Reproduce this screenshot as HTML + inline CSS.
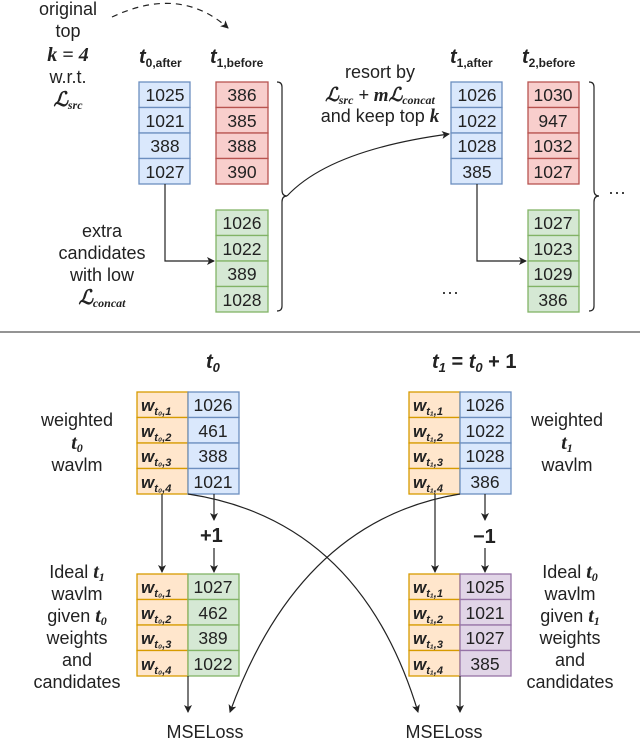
<!DOCTYPE html>
<html><head><meta charset="utf-8"><style>
body{margin:0;background:#fff}
svg text{font-family:"Liberation Sans",sans-serif;fill:#222}
.m{font-family:"Liberation Serif",serif;font-style:italic;font-weight:bold}
.n{font-size:17.5px;text-anchor:middle}
.l{font-size:18px;text-anchor:middle}
</style></head><body>
<svg width="640" height="742" viewBox="0 0 640 742" xmlns="http://www.w3.org/2000/svg">
<defs><marker id="a" markerWidth="8" markerHeight="8" refX="7" refY="4" orient="auto" markerUnits="userSpaceOnUse"><path d="M0,0 L8,4 L0,8 L2,4z" fill="#222"/></marker></defs>
<g stroke-width="1.3">
<g fill="#dae8fc" stroke="#6c8ebf"><rect x="139" y="82" width="51" height="25.5"/><rect x="139" y="107.5" width="51" height="25.5"/><rect x="139" y="133" width="51" height="25.5"/><rect x="139" y="158.5" width="51" height="25.5"/>
<rect x="451" y="82" width="51" height="25.5"/><rect x="451" y="107.5" width="51" height="25.5"/><rect x="451" y="133" width="51" height="25.5"/><rect x="451" y="158.5" width="51" height="25.5"/></g>
<g fill="#f8cecc" stroke="#b85450"><rect x="216" y="82" width="52" height="25.5"/><rect x="216" y="107.5" width="52" height="25.5"/><rect x="216" y="133" width="52" height="25.5"/><rect x="216" y="158.5" width="52" height="25.5"/>
<rect x="528" y="82" width="51" height="25.5"/><rect x="528" y="107.5" width="51" height="25.5"/><rect x="528" y="133" width="51" height="25.5"/><rect x="528" y="158.5" width="51" height="25.5"/></g>
<g fill="#d5e8d4" stroke="#82b366"><rect x="216" y="210" width="52" height="25.5"/><rect x="216" y="235.5" width="52" height="25.5"/><rect x="216" y="261" width="52" height="25.5"/><rect x="216" y="286.5" width="52" height="25.5"/>
<rect x="528" y="210" width="51" height="25.5"/><rect x="528" y="235.5" width="51" height="25.5"/><rect x="528" y="261" width="51" height="25.5"/><rect x="528" y="286.5" width="51" height="25.5"/></g>
<g fill="#ffe6cc" stroke="#d79b00">
<rect x="137" y="392" width="51" height="25.5"/><rect x="137" y="417.5" width="51" height="25.5"/><rect x="137" y="443" width="51" height="25.5"/><rect x="137" y="468.5" width="51" height="25.5"/>
<rect x="137" y="574" width="51" height="25.5"/><rect x="137" y="599.5" width="51" height="25.5"/><rect x="137" y="625" width="51" height="25.5"/><rect x="137" y="650.5" width="51" height="25.5"/>
<rect x="409" y="392" width="51" height="25.5"/><rect x="409" y="417.5" width="51" height="25.5"/><rect x="409" y="443" width="51" height="25.5"/><rect x="409" y="468.5" width="51" height="25.5"/>
<rect x="409" y="574" width="51" height="25.5"/><rect x="409" y="599.5" width="51" height="25.5"/><rect x="409" y="625" width="51" height="25.5"/><rect x="409" y="650.5" width="51" height="25.5"/></g>
<g fill="#dae8fc" stroke="#6c8ebf"><rect x="188" y="392" width="51" height="25.5"/><rect x="188" y="417.5" width="51" height="25.5"/><rect x="188" y="443" width="51" height="25.5"/><rect x="188" y="468.5" width="51" height="25.5"/>
<rect x="460" y="392" width="51" height="25.5"/><rect x="460" y="417.5" width="51" height="25.5"/><rect x="460" y="443" width="51" height="25.5"/><rect x="460" y="468.5" width="51" height="25.5"/></g>
<g fill="#d5e8d4" stroke="#82b366"><rect x="188" y="574" width="51" height="25.5"/><rect x="188" y="599.5" width="51" height="25.5"/><rect x="188" y="625" width="51" height="25.5"/><rect x="188" y="650.5" width="51" height="25.5"/></g>
<g fill="#e1d5e7" stroke="#9673a6"><rect x="460" y="574" width="51" height="25.5"/><rect x="460" y="599.5" width="51" height="25.5"/><rect x="460" y="625" width="51" height="25.5"/><rect x="460" y="650.5" width="51" height="25.5"/></g>
</g>
<g fill="none" stroke="#222" stroke-width="1.2">
<path d="M112,17 Q180,-15 228,28" stroke-dasharray="6,5" marker-end="url(#a)"/>
<path d="M165,184 V261 H214" marker-end="url(#a)"/>
<path d="M477,184 V261 H526" marker-end="url(#a)"/>
<path d="M277,82 q5,0 5,5 V190 q0,6 5,6 q-5,0 -5,6 V306 q0,5 -5,5"/>
<path d="M589,82 q5,0 5,5 V190 q0,6 5,6 q-5,0 -5,6 V306 q0,5 -5,5"/>
<path d="M287,196 Q330,150 449,134" marker-end="url(#a)"/>
<line x1="0" y1="332" x2="640" y2="332" stroke="#555"/>
<path d="M162,494 V572" marker-end="url(#a)"/>
<path d="M214,494 V520" marker-end="url(#a)"/>
<path d="M214,548 V572" marker-end="url(#a)"/>
<path d="M435,494 V572" marker-end="url(#a)"/>
<path d="M485,494 V520" marker-end="url(#a)"/>
<path d="M485,548 V572" marker-end="url(#a)"/>
<path d="M188,676 V712" marker-end="url(#a)"/>
<path d="M460,676 V712" marker-end="url(#a)"/>
<path d="M188,494 Q360,520 418,712" marker-end="url(#a)"/>
<path d="M460,494 Q300,520 230,712" marker-end="url(#a)"/>
</g>
<g class="n">
<text x="165" y="101">1025</text><text x="165" y="127">1021</text><text x="165" y="152">388</text><text x="165" y="178">1027</text>
<text x="242" y="101">386</text><text x="242" y="127">385</text><text x="242" y="152">388</text><text x="242" y="178">390</text>
<text x="242" y="229">1026</text><text x="242" y="255">1022</text><text x="242" y="280">389</text><text x="242" y="306">1028</text>
<text x="477" y="101">1026</text><text x="477" y="127">1022</text><text x="477" y="152">1028</text><text x="477" y="178">385</text>
<text x="553" y="101">1030</text><text x="553" y="127">947</text><text x="553" y="152">1032</text><text x="553" y="178">1027</text>
<text x="553" y="229">1027</text><text x="553" y="255">1023</text><text x="553" y="280">1029</text><text x="553" y="306">386</text>
</g>
<g class="l">
<text x="68" y="15">original</text><text x="68" y="37">top</text>
<text x="68" y="61" class="m" style="font-size:20px">k = 4</text>
<text x="68" y="83">w.r.t.</text>
<text x="68" y="106" class="m" style="font-size:20px">ℒ<tspan font-size="12" dy="3">src</tspan></text>
<text x="102" y="237">extra</text><text x="102" y="259">candidates</text><text x="102" y="281">with low</text>
<text x="102" y="304" class="m" style="font-size:20px">ℒ<tspan font-size="12" dy="3">concat</tspan></text>
<text x="380" y="78">resort by</text>
<text x="380" y="101" class="m" style="font-size:19px">ℒ<tspan font-size="12" dy="3">src</tspan><tspan dy="-3"> + mℒ</tspan><tspan font-size="12" dy="3">concat</tspan></text>
<text x="380" y="122">and keep top <tspan class="m" style="font-size:19px">k</tspan></text>
</g>
<g class="m" style="font-size:20px">
<text x="139" y="63">t<tspan font-size="12" dy="4" font-style="normal">0,after</tspan></text>
<text x="210" y="63">t<tspan font-size="12" dy="4" font-style="normal">1,before</tspan></text>
<text x="450" y="63">t<tspan font-size="12" dy="4" font-style="normal">1,after</tspan></text>
<text x="522" y="63">t<tspan font-size="12" dy="4" font-style="normal">2,before</tspan></text>
<text x="206" y="368">t<tspan font-size="13" dy="4">0</tspan></text>
<text x="432" y="368">t<tspan font-size="13" dy="4">1</tspan><tspan dy="-4" font-style="normal"> = </tspan>t<tspan font-size="13" dy="4">0</tspan><tspan dy="-4" font-style="normal"> + 1</tspan></text>
<text x="200" y="542" font-style="normal">+1</text>
<text x="473" y="543" font-style="normal">−1</text>
</g>
<text x="617" y="198" class="l">···</text><text x="450" y="298" class="l">···</text>
<g class="m" style="font-size:17px">
<text x="141" y="411">w<tspan font-size="11" dy="4">t₀,1</tspan></text><text x="141" y="437">w<tspan font-size="11" dy="4">t₀,2</tspan></text><text x="141" y="462">w<tspan font-size="11" dy="4">t₀,3</tspan></text><text x="141" y="488">w<tspan font-size="11" dy="4">t₀,4</tspan></text>
<text x="141" y="593">w<tspan font-size="11" dy="4">t₀,1</tspan></text><text x="141" y="619">w<tspan font-size="11" dy="4">t₀,2</tspan></text><text x="141" y="644">w<tspan font-size="11" dy="4">t₀,3</tspan></text><text x="141" y="670">w<tspan font-size="11" dy="4">t₀,4</tspan></text>
<text x="413" y="411">w<tspan font-size="11" dy="4">t₁,1</tspan></text><text x="413" y="437">w<tspan font-size="11" dy="4">t₁,2</tspan></text><text x="413" y="462">w<tspan font-size="11" dy="4">t₁,3</tspan></text><text x="413" y="488">w<tspan font-size="11" dy="4">t₁,4</tspan></text>
<text x="413" y="593">w<tspan font-size="11" dy="4">t₁,1</tspan></text><text x="413" y="619">w<tspan font-size="11" dy="4">t₁,2</tspan></text><text x="413" y="644">w<tspan font-size="11" dy="4">t₁,3</tspan></text><text x="413" y="670">w<tspan font-size="11" dy="4">t₁,4</tspan></text>
</g>
<g class="n">
<text x="213" y="411">1026</text><text x="213" y="437">461</text><text x="213" y="462">388</text><text x="213" y="488">1021</text>
<text x="213" y="593">1027</text><text x="213" y="619">462</text><text x="213" y="644">389</text><text x="213" y="670">1022</text>
<text x="485" y="411">1026</text><text x="485" y="437">1022</text><text x="485" y="462">1028</text><text x="485" y="488">386</text>
<text x="485" y="593">1025</text><text x="485" y="619">1021</text><text x="485" y="644">1027</text><text x="485" y="670">385</text>
</g>
<g class="l">
<text x="77" y="426">weighted</text><text x="77" y="449" class="m" style="font-size:20px">t<tspan font-size="12" dy="3">0</tspan></text><text x="77" y="471">wavlm</text>
<text x="567" y="426">weighted</text><text x="567" y="449" class="m" style="font-size:20px">t<tspan font-size="12" dy="3">1</tspan></text><text x="567" y="471">wavlm</text>
<text x="77" y="578">Ideal <tspan class="m" style="font-size:20px">t</tspan><tspan class="m" font-size="12" dy="3">1</tspan></text>
<text x="77" y="600">wavlm</text>
<text x="77" y="622">given <tspan class="m" style="font-size:20px">t</tspan><tspan class="m" font-size="12" dy="3">0</tspan></text>
<text x="77" y="644">weights</text><text x="77" y="666">and</text><text x="77" y="688">candidates</text>
<text x="570" y="578">Ideal <tspan class="m" style="font-size:20px">t</tspan><tspan class="m" font-size="12" dy="3">0</tspan></text>
<text x="570" y="600">wavlm</text>
<text x="570" y="622">given <tspan class="m" style="font-size:20px">t</tspan><tspan class="m" font-size="12" dy="3">1</tspan></text>
<text x="570" y="644">weights</text><text x="570" y="666">and</text><text x="570" y="688">candidates</text>
<text x="205" y="738">MSELoss</text><text x="444" y="738">MSELoss</text>
</g>
</svg>
</body></html>
